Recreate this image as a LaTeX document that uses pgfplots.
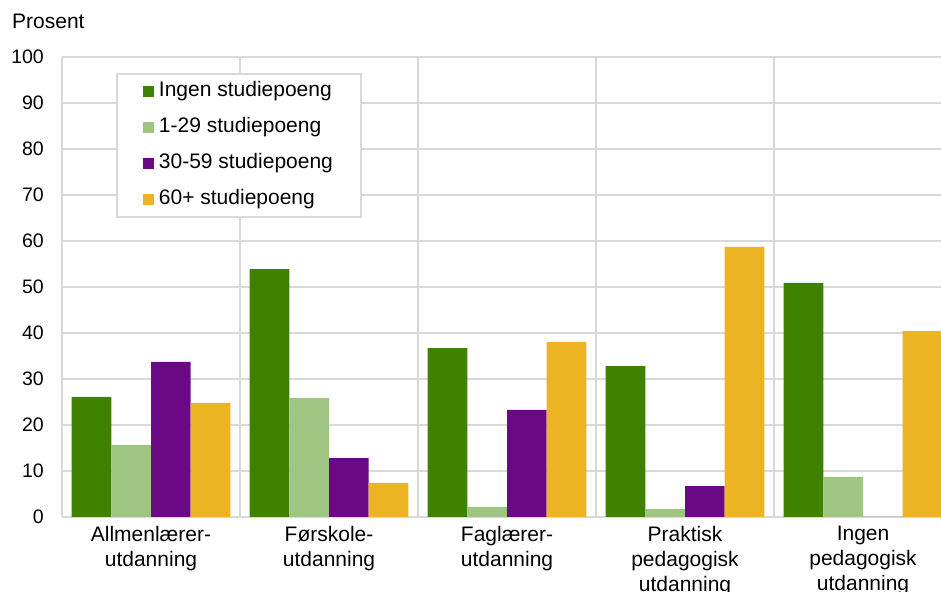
\documentclass[border=0pt]{standalone}
\usepackage{fontspec}
\setmainfont{Liberation Sans}
\usepackage{pgfplots}
\pgfplotsset{compat=1.18}
\definecolor{cA}{HTML}{3E8200}
\definecolor{cB}{HTML}{9FC583}
\definecolor{cC}{HTML}{6A0886}
\definecolor{cD}{HTML}{ECB322}
\definecolor{gridgray}{HTML}{D9D9D9}
\begin{document}
\begin{tikzpicture}
\begin{axis}[name=ax, scale only axis, width=879pt, height=460pt,
 xmin=-0.5, xmax=4.438, ymin=0, ymax=100,
 ytick={0,10,...,100}, xtick={0,1,2,3,4},
 xticklabels={Allmenlærer-\\utdanning,Førskole-\\utdanning,Faglærer-\\utdanning,Praktisk\\pedagogisk\\utdanning,Ingen\\pedagogisk\\utdanning},
 minor xtick={0.5,1.5,2.5,3.5},
 xminorgrids, ymajorgrids,
 major grid style={gridgray, line width=2pt},
 minor grid style={gridgray, line width=2pt},
 major tick length=0pt, minor tick length=0pt,
 axis lines=left, axis line style={gridgray, line width=2pt, -},
 ybar=0pt, bar width=0.223,
 font=\fontsize{21}{25}\selectfont,
 tick label style={font=\fontsize{21}{25}\selectfont, black},
 /pgf/number format/assume math mode=true,
 yticklabel style={inner sep=0pt, xshift=-18pt, font=\fontsize{19.5}{23}\selectfont},
 xticklabel style={align=center, inner sep=0pt, yshift=-9pt},
 title=Prosent, title style={at={(0,1)}, anchor=base west, inner sep=0pt, xshift=-50pt, yshift=22pt, font=\fontsize{21}{25}\selectfont},
 legend style={at={(0.0614,0.965)}, anchor=north west, draw=gridgray, line width=2pt, fill=white, inner xsep=26pt, inner ysep=5.5pt, row sep=12pt, column sep=3pt, font=\fontsize{21}{25}\selectfont, nodes={inner sep=2pt, text height=15pt, text depth=5pt}},
 legend cell align=left,
 legend image code/.code={\fill[#1] (0pt,-5pt) rectangle (11pt,6pt);},
]
\addplot[fill=cA, draw=none] coordinates {(0,26.1) (1,53.9) (2,36.7) (3,32.8) (4,50.9)};
\addplot[fill=cB, draw=none] coordinates {(0,15.7) (1,25.9) (2,2.2) (3,1.7) (4,8.7)};
\addplot[fill=cC, draw=none] coordinates {(0,33.7) (1,12.8) (2,23.3) (3,6.7) (4,0)};
\addplot[fill=cD, draw=none] coordinates {(0,24.8) (1,7.4) (2,38.0) (3,58.7) (4,40.4)};
\legend{Ingen studiepoeng,1-29 studiepoeng,30-59 studiepoeng,60+ studiepoeng}
\end{axis}
\pgfresetboundingbox
\path[use as bounding box] ([xshift=-62pt,yshift=-75pt]ax.south west) rectangle ([yshift=57pt]ax.north east);
\end{tikzpicture}
\end{document}
